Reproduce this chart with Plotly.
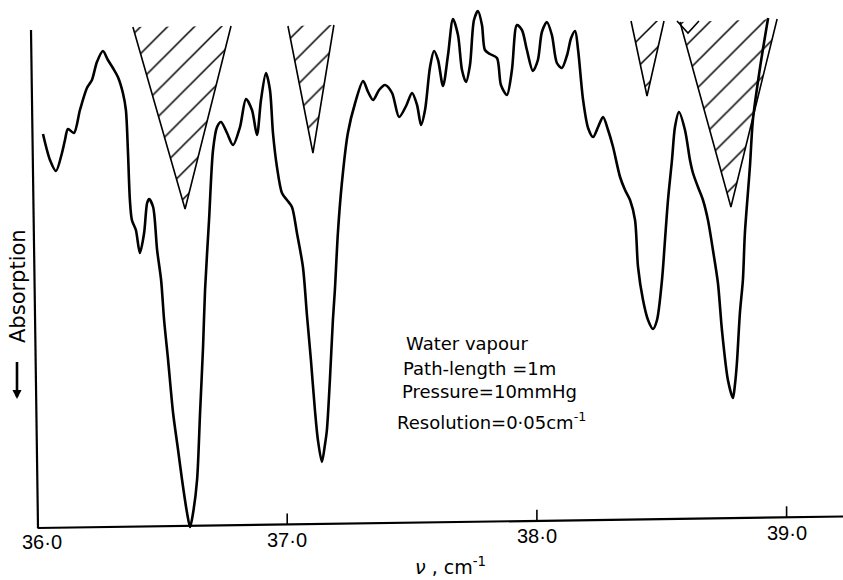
import plotly.graph_objects as go

# ---- spectrum (wavenumber, cm^-1) and recorder signal (arbitrary units, absorption downwards)
wavenumber = [
    36.022, 36.050, 36.074, 36.098, 36.110, 36.122, 36.146, 36.170, 36.198, 36.218,
    36.238, 36.262, 36.282, 36.302, 36.322, 36.342, 36.354, 36.362, 36.370, 36.378,
    36.394, 36.410, 36.427, 36.439, 36.447, 36.463, 36.479, 36.495, 36.507, 36.523,
    36.543, 36.563, 36.579, 36.599, 36.611, 36.623, 36.639, 36.651, 36.663, 36.671,
    36.687, 36.703, 36.719, 36.735, 36.759, 36.783, 36.811, 36.835, 36.859, 36.879,
    36.895, 36.915, 36.931, 36.943, 36.959, 36.979, 36.999, 37.019, 37.039, 37.063,
    37.079, 37.095, 37.111, 37.123, 37.139, 37.151, 37.159, 37.171, 37.183, 37.191,
    37.203, 37.219, 37.243, 37.272, 37.304, 37.324, 37.344, 37.368, 37.392, 37.420,
    37.448, 37.476, 37.500, 37.520, 37.536, 37.552, 37.572, 37.588, 37.604, 37.624,
    37.644, 37.664, 37.684, 37.700, 37.716, 37.732, 37.748, 37.764, 37.780, 37.792,
    37.812, 37.840, 37.856, 37.880, 37.900, 37.920, 37.940, 37.960, 37.984, 38.004,
    38.020, 38.040, 38.060, 38.080, 38.100, 38.121, 38.137, 38.153, 38.165, 38.185,
    38.205, 38.225, 38.245, 38.265, 38.285, 38.305, 38.333, 38.353, 38.373, 38.393,
    38.405, 38.425, 38.445, 38.465, 38.481, 38.501, 38.513, 38.525, 38.541, 38.553,
    38.569, 38.593, 38.613, 38.625, 38.645, 38.665, 38.685, 38.705, 38.725, 38.741,
    38.765, 38.785, 38.793, 38.801, 38.813, 38.825, 38.833, 38.853, 38.865, 38.894,
    38.926,
]
signal = [
    78.0, 72.8, 70.6, 74.2, 76.8, 79.0, 78.2, 82.8, 87.2, 88.8,
    92.4, 94.6, 92.8, 91.2, 89.4, 86.2, 82.8, 74.8, 64.8, 60.8,
    58.8, 54.2, 58.2, 64.2, 65.0, 63.4, 54.8, 48.8, 40.8, 32.8,
    22.2, 14.8, 8.8, 2.2, -0.6, 2.2, 8.8, 22.2, 35.4, 46.8,
    60.8, 74.8, 79.4, 80.4, 78.2, 75.8, 79.4, 85.0, 82.8, 77.8,
    84.8, 90.2, 86.8, 78.2, 71.4, 66.2, 64.8, 63.4, 58.2, 51.4,
    41.8, 32.8, 22.8, 16.8, 12.4, 15.8, 18.8, 28.8, 40.8, 46.8,
    58.2, 68.2, 78.2, 84.2, 88.6, 86.4, 84.8, 86.8, 87.8, 86.2,
    81.4, 83.6, 86.2, 83.8, 79.8, 82.8, 91.4, 94.6, 92.8, 87.6,
    93.8, 101.0, 97.8, 90.8, 88.4, 91.8, 100.8, 102.6, 99.8, 94.8,
    94.0, 93.2, 87.8, 85.8, 90.8, 99.8, 98.8, 94.8, 90.6, 92.8,
    98.4, 100.4, 97.8, 92.2, 91.2, 93.8, 97.2, 98.6, 94.8, 84.8,
    79.2, 77.4, 79.4, 81.4, 78.8, 75.4, 69.4, 66.8, 64.8, 60.8,
    51.4, 44.8, 40.8, 39.0, 40.8, 48.8, 56.8, 64.8, 72.8, 79.4,
    82.4, 78.8, 72.8, 70.2, 67.4, 64.8, 60.8, 54.8, 48.2, 38.8,
    28.8, 25.2, 27.8, 32.2, 42.2, 48.8, 58.2, 71.4, 80.8, 91.4,
    101.2,
]

# ---- hatched (masked) regions: left top, apex, right top
hatch_left_x = [36.382, 37.003, 38.377, 38.573]
hatch_apex_x = [36.591, 37.103, 38.441, 38.777]
hatch_right_x = [36.775, 37.187, 38.509, 38.962]
hatch_left_y = [99.4, 99.6, 100.6, 100.4]
hatch_apex_y = [63.0, 74.2, 85.6, 63.4]
hatch_right_y = [99.6, 99.8, 100.6, 101.0]
notch_x = [38.561, 38.605, 38.649]
notch_y = [100.6, 98.2, 100.6]

tick_values = [36.0, 37.0, 38.0, 39.0]
tick_labels = ["36·0", "37·0", "38·0", "39·0"]

notes = ["Water vapour", "Path-length =1m", "Pressure=10mmHg", "Resolution=0·05cm<sup>-1</sup>"]

# ---- layout geometry (pixels)
W, H = 843, 580
ML, MR, MT, MB = 28, 0, 5, 50
PX0 = 37.5          # pixel of 36.0
PPU = 249.7         # pixels per cm^-1
Y0PIX, YSCALE = 524, 5.0
x_range = [36 + (ML - PX0) / PPU, 36 + (W - MR - PX0) / PPU]
y_range = [(Y0PIX - (H - MB)) / YSCALE, (Y0PIX - MT) / YSCALE]


def px(xp):
    return (xp - ML) / (W - ML - MR)


def py(yp):
    return (H - MB - yp) / (H - MT - MB)


fig = go.Figure()

for i in range(len(hatch_apex_x)):
    fig.add_trace(go.Scatter(
        x=[hatch_left_x[i], hatch_apex_x[i], hatch_right_x[i]],
        y=[hatch_left_y[i], hatch_apex_y[i], hatch_right_y[i]],
        mode="lines", fill="toself", fillcolor="rgba(255,255,255,0)",
        fillpattern=dict(shape="/", size=19, solidity=0.08, fgcolor="black", fgopacity=1,
                         bgcolor="rgba(255,255,255,0)"),
        line=dict(color="black", width=1.6), hoverinfo="skip", showlegend=False,
    ))

fig.add_trace(go.Scatter(x=notch_x, y=notch_y, mode="lines",
                         line=dict(color="black", width=1.6), showlegend=False, hoverinfo="skip"))

fig.add_trace(go.Scatter(
    x=wavenumber, y=signal, mode="lines",
    line=dict(color="black", width=2.6, shape="spline", smoothing=0.8),
    showlegend=False,
))

# slightly skewed axes (as in the scanned original)
base_left, base_right = -0.8, 1.5
def base_at(xv):
    return base_left + (base_right - base_left) * (xv - 36.0) / (x_range[1] - 36.0)

shapes = [
    dict(type="line", xref="x", yref="y", x0=36.0, y0=base_left, x1=x_range[1], y1=base_right,
         line=dict(color="black", width=2.2)),
    dict(type="line", xref="paper", yref="paper", x0=px(31), y0=py(30), x1=px(38), y1=py(528),
         line=dict(color="black", width=2.2)),
]
for tv in tick_values[1:]:
    shapes.append(dict(type="line", xref="x", yref="y", x0=tv, x1=tv,
                       y0=base_at(tv), y1=base_at(tv) + 2.2,
                       line=dict(color="black", width=1.6)))

ann = []
# tick labels follow the slightly skewed baseline
tick_label_y = [542, 540, 535.5, 532.5]
for tv, tl, yp in zip(tick_values, tick_labels, tick_label_y):
    xv = tv + 4.5 / PPU if tv == 36.0 else tv
    ann.append(dict(text=tl, xref="x", yref="paper", x=xv, y=py(yp),
                    xanchor="center", yanchor="middle", showarrow=False,
                    font=dict(family="Liberation Sans", size=20, color="black")))

note_pos = [(404, 343), (401, 368), (400, 391), (395, 421)]
for t, (xp, yp) in zip(notes, note_pos):
    ann.append(dict(text=t, xref="paper", yref="paper", x=px(xp), y=py(yp),
                    xanchor="left", yanchor="middle", showarrow=False,
                    font=dict(family="DejaVu Sans", size=18, color="black")))
ann.append(dict(text="Absorption", xref="paper", yref="paper", x=px(18), y=py(286),
                textangle=-90, showarrow=False, xanchor="center", yanchor="middle",
                font=dict(family="DejaVu Sans", size=21, color="black")))
ann.append(dict(text=" ", xref="paper", yref="paper", x=px(17), y=py(399), ax=0, ay=-39,
                font=dict(size=1),
                showarrow=True, arrowhead=2, arrowsize=0.7, arrowwidth=2.6, arrowcolor="black"))
ann.append(dict(text="<i>ν</i> , cm<sup>-1</sup>", xref="paper", yref="paper", x=px(450), y=py(566),
                showarrow=False, xanchor="center", yanchor="middle",
                font=dict(family="DejaVu Sans", size=19, color="black")))

fig.update_layout(
    width=W, height=H, margin=dict(l=ML, r=MR, t=MT, b=MB),
    paper_bgcolor="white", plot_bgcolor="white",
    shapes=shapes, annotations=ann,
    xaxis=dict(range=x_range, showgrid=False, zeroline=False, showline=False, ticks="",
               showticklabels=False),
    yaxis=dict(range=y_range, visible=False),
)

fig.write_html("out.html", config={"displayModeBar": False},
               post_script="document.body.style.margin='0px';")
